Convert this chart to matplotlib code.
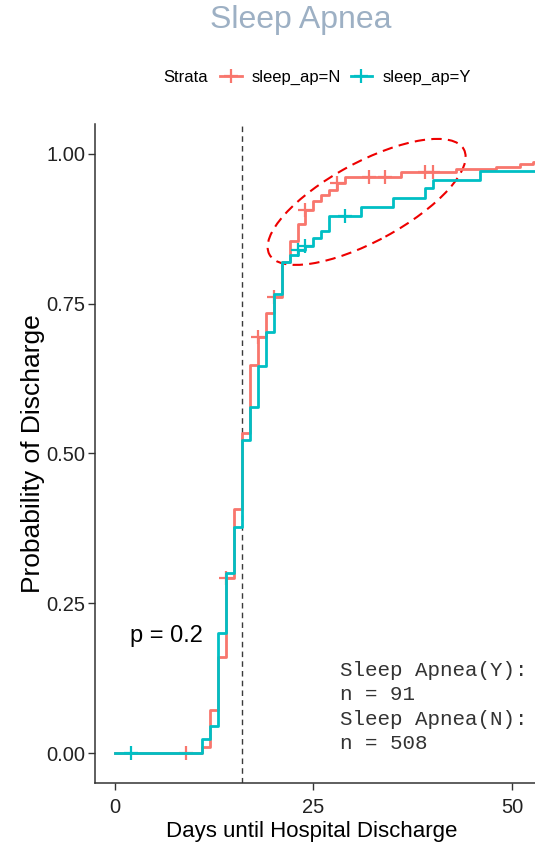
import numpy as np
import matplotlib
matplotlib.use("Agg")
import matplotlib.pyplot as plt
from matplotlib.lines import Line2D
from matplotlib.patches import Ellipse
from matplotlib.transforms import ScaledTranslation

# Data
time_n = [0, 11, 12, 13, 14, 15, 16, 17, 18, 19, 20, 21, 22, 23, 24, 25, 26, 27, 28, 29, 36, 43, 48, 51, 52.7, 55]
prob_n = [0, 0.0105, 0.072, 0.161, 0.292, 0.408, 0.534, 0.648, 0.695, 0.735, 0.762, 0.82, 0.854, 0.883,
          0.907, 0.921, 0.932, 0.94, 0.951, 0.962, 0.97, 0.975, 0.979, 0.983, 0.986, 0.986]
time_y = [0, 11, 12, 13, 14, 15, 16, 17, 18, 19, 20, 21, 22, 23, 24, 25, 26, 27, 31, 35, 39, 40, 46, 55]
prob_y = [0, 0.023, 0.045, 0.20, 0.30, 0.378, 0.523, 0.578, 0.646, 0.703, 0.766, 0.82, 0.831, 0.84,
          0.846, 0.859, 0.872, 0.896, 0.912, 0.927, 0.943, 0.957, 0.972, 0.972]
censor_n = [9, 14, 18, 20, 24, 28, 32, 34, 39, 40]
censor_y = [2, 23, 24, 29]

labels = ["sleep_ap=N", "sleep_ap=Y"]
colors = ["#F8766D", "#00BFC4"]
n_y, n_n = 91, 508
median_day = 16

sans = ["Liberation Sans", "DejaVu Sans"]


def value_at(times, probs, t):
    idx = np.searchsorted(times, t, side="right") - 1
    return np.asarray(probs)[idx]


fig = plt.figure(figsize=(5.35, 8.46), dpi=100)
ax = fig.add_axes([0.1776, 0.0745, 0.8224, 0.7789])

curves = [(time_n, prob_n, censor_n), (time_y, prob_y, censor_y)]
for (t, p, c), col in zip(curves, colors):
    ax.step(t, p, where="post", color=col, lw=2.0)
    ax.plot(c, value_at(t, p, c), ls="none", marker="+", ms=10, mew=1.6, color=col)

ax.axvline(median_day, color="#3a3a3a", ls=(0, (4, 3)), lw=1.0, zorder=1)

# highlight ellipse drawn in inches around a data point
ell = Ellipse((0, 0), 2.21, 0.79, angle=28.4, fill=False, ec="#EE0000", lw=1.5, ls=(0, (5, 3)),
              transform=fig.dpi_scale_trans + ScaledTranslation(31.7, 0.92, ax.transData))
ax.add_patch(ell)

ax.text(1.9, 0.195, "p = 0.2", fontsize=17, family=sans, ha="left", va="center")
ax.text(28.3, 0.153, f"Sleep Apnea(Y):\nn = {n_y}\nSleep Apnea(N):\nn = {n_n}",
        fontsize=15, family=["Liberation Mono", "DejaVu Sans Mono"], color="#333333",
        ha="left", va="top", linespacing=1.34)

ax.set_xlim(-2.5, 52.9)
ax.set_ylim(-0.05, 1.05)
ax.set_xticks([0, 25, 50])
ax.set_yticks([0, 0.25, 0.5, 0.75, 1.0])
ax.set_yticklabels(["0.00", "0.25", "0.50", "0.75", "1.00"])
for lab in ax.get_xticklabels() + ax.get_yticklabels():
    lab.set_family(sans)
    lab.set_fontsize(14.5)
    lab.set_color("#222222")
ax.tick_params(length=5, width=1.0, color="#333333")
ax.tick_params(axis="y", pad=2)
ax.tick_params(axis="x", pad=5.5)
for s in ["top", "right"]:
    ax.spines[s].set_visible(False)
for s in ["left", "bottom"]:
    ax.spines[s].set_color("#333333")
    ax.spines[s].set_linewidth(1.1)

ax.set_xlabel("Days until Hospital Discharge", fontsize=16, family=sans, va="center")
ax.xaxis.set_label_coords(0.493, -0.0744)
ax.set_ylabel("Probability of Discharge", fontsize=19, family=sans, va="center")
ax.yaxis.set_label_coords(-0.141, 0.5)

fig.text(0.562, 0.976, "Sleep Apnea", fontsize=23, family=sans, color="#9DB0C4", ha="center", va="center")

# legend
fig.text(163 / 535, 0.908, "Strata", fontsize=12, family=sans, ha="left", va="center")
handles = [Line2D([], [], color=c, lw=2.0, marker="+", ms=10, mew=1.6) for c in colors]
fig.legend(handles, labels, ncol=2, loc="center left", bbox_to_anchor=(212 / 535, 0.908),
           frameon=False, prop={"family": sans, "size": 12}, borderpad=0,
           handlelength=1.3, handletextpad=0.6, columnspacing=0.55)

fig.savefig("out.png", dpi=100)
